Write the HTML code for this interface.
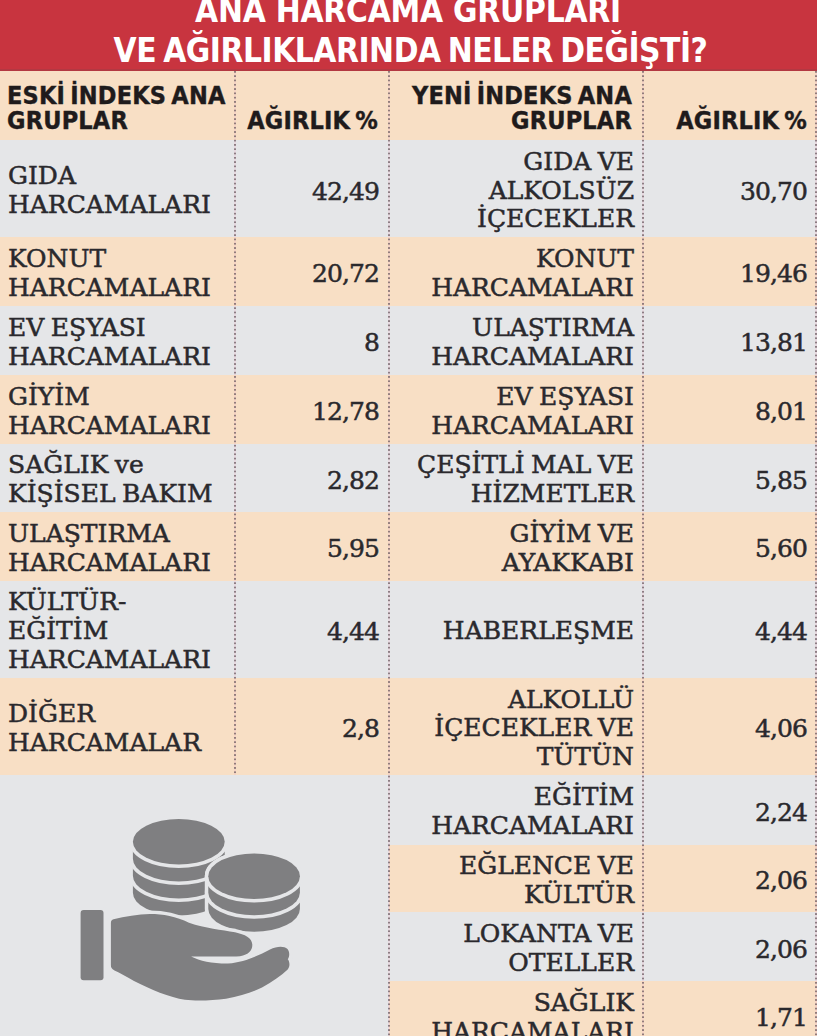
<!DOCTYPE html>
<html lang="tr">
<head>
<meta charset="utf-8">
<style>
html,body{margin:0;padding:0;}
body{width:820px;height:1036px;overflow:hidden;background:#fff;position:relative;}
.abs{position:absolute;}
#title{left:0;top:0;width:817px;height:71px;background:#c8343f;box-shadow:inset 0 -2px 0 #b33842;}
.tl{position:absolute;left:0;width:816px;text-align:center;color:#fff;font-family:"DejaVu Sans Condensed","DejaVu Sans",sans-serif;font-weight:bold;font-size:33.2px;line-height:40px;letter-spacing:-0.87px;white-space:nowrap;}
.bg{position:absolute;}
.g{background:#e5e6e8;}
.b{background:#f8dfc5;}
.hd{position:absolute;font-family:"DejaVu Sans Condensed","DejaVu Sans",sans-serif;font-weight:bold;font-size:25px;line-height:25.4px;color:#1f1b1c;white-space:nowrap;letter-spacing:0.2px;word-spacing:-3px;-webkit-text-stroke:0.4px #1f1b1c;}
.cell{position:absolute;display:flex;align-items:center;font-family:"DejaVu Serif",serif;font-size:25px;line-height:28.8px;color:#2a292d;white-space:nowrap;box-sizing:border-box;padding-top:5px;-webkit-text-stroke:0.5px #2a292d;word-spacing:-1.5px;}
.n1,.n2{letter-spacing:-0.9px;padding-top:7px;}
.l{left:8px;width:226px;justify-content:flex-start;text-align:left;}
.n1{left:235px;width:144px;justify-content:flex-end;text-align:right;}
.r{left:389px;width:245px;justify-content:flex-end;text-align:right;}
.n2{left:644px;width:163px;justify-content:flex-end;text-align:right;}
.dv{position:absolute;width:2px;background-color:rgba(240,180,200,.25);background-image:linear-gradient(to bottom,rgba(105,90,95,.72) 0,rgba(105,90,95,.72) 1.8px,transparent 1.8px,transparent 4.3px);background-size:2px 4.3px;}
</style>
</head>
<body>
<div id="title" class="abs">
  <div class="tl" style="top:-8.6px;letter-spacing:-0.24px">ANA HARCAMA GRUPLARI</div>
  <div class="tl" style="top:31.4px;left:2.5px;letter-spacing:-0.48px;word-spacing:-2.8px">VE AĞIRLIKLARINDA NELER DEĞİŞTİ?</div>
</div>

<!-- header row -->
<div class="bg b" style="left:0;top:71px;width:817px;height:69px"></div>
<!-- left table rows -->
<div class="bg g" style="left:0;top:140px;width:389px;height:97px"></div>
<div class="bg b" style="left:0;top:237px;width:389px;height:68.5px"></div>
<div class="bg g" style="left:0;top:305.5px;width:389px;height:69.5px"></div>
<div class="bg b" style="left:0;top:375px;width:389px;height:68.5px"></div>
<div class="bg g" style="left:0;top:443.5px;width:389px;height:68.5px"></div>
<div class="bg b" style="left:0;top:512px;width:389px;height:68.5px"></div>
<div class="bg g" style="left:0;top:580.5px;width:389px;height:97px"></div>
<div class="bg b" style="left:0;top:677.5px;width:389px;height:97.5px"></div>
<div class="bg g" style="left:0;top:775px;width:389px;height:261px"></div>
<!-- right table rows -->
<div class="bg g" style="left:389px;top:140px;width:428px;height:97px"></div>
<div class="bg b" style="left:389px;top:237px;width:428px;height:68.5px"></div>
<div class="bg g" style="left:389px;top:305.5px;width:428px;height:69.5px"></div>
<div class="bg b" style="left:389px;top:375px;width:428px;height:68.5px"></div>
<div class="bg g" style="left:389px;top:443.5px;width:428px;height:68.5px"></div>
<div class="bg b" style="left:389px;top:512px;width:428px;height:68.5px"></div>
<div class="bg g" style="left:389px;top:580.5px;width:428px;height:97px"></div>
<div class="bg b" style="left:389px;top:677.5px;width:428px;height:97.5px"></div>
<div class="bg g" style="left:389px;top:775px;width:428px;height:69.5px"></div>
<div class="bg b" style="left:389px;top:844.5px;width:428px;height:67.5px"></div>
<div class="bg g" style="left:389px;top:912px;width:428px;height:69px"></div>
<div class="bg b" style="left:389px;top:981px;width:428px;height:55px"></div>

<!-- dividers -->
<div class="dv" style="left:234px;top:71px;height:704px"></div>
<div class="dv" style="left:388px;top:71px;height:965px"></div>
<div class="dv" style="left:642px;top:71px;height:965px"></div>
<div class="dv" style="left:815px;top:71px;height:965px"></div>

<!-- header text -->
<div class="hd" style="left:7px;top:83px;">ESKİ İNDEKS ANA<br>GRUPLAR</div>
<div class="hd" style="right:442px;top:108.4px;text-align:right">AĞIRLIK %</div>
<div class="hd" style="right:188px;top:83px;text-align:right">YENİ İNDEKS ANA<br>GRUPLAR</div>
<div class="hd" style="right:13px;top:108.4px;text-align:right">AĞIRLIK %</div>

<!-- left table body -->
<div class="cell l" style="top:140px;height:97px">GIDA<br>HARCAMALARI</div>
<div class="cell n1" style="top:140px;height:97px">42,49</div>
<div class="cell l" style="top:237px;height:68.5px">KONUT<br>HARCAMALARI</div>
<div class="cell n1" style="top:237px;height:68.5px">20,72</div>
<div class="cell l" style="top:305.5px;height:69.5px">EV EŞYASI<br>HARCAMALARI</div>
<div class="cell n1" style="top:305.5px;height:69.5px">8</div>
<div class="cell l" style="top:375px;height:68.5px">GİYİM<br>HARCAMALARI</div>
<div class="cell n1" style="top:375px;height:68.5px">12,78</div>
<div class="cell l" style="top:443.5px;height:68.5px">SAĞLIK ve<br>KİŞİSEL BAKIM</div>
<div class="cell n1" style="top:443.5px;height:68.5px">2,82</div>
<div class="cell l" style="top:512px;height:68.5px">ULAŞTIRMA<br>HARCAMALARI</div>
<div class="cell n1" style="top:512px;height:68.5px">5,95</div>
<div class="cell l" style="top:580.5px;height:97px">KÜLTÜR-<br>EĞİTİM<br>HARCAMALARI</div>
<div class="cell n1" style="top:580.5px;height:97px">4,44</div>
<div class="cell l" style="top:677.5px;height:97.5px">DİĞER<br>HARCAMALAR</div>
<div class="cell n1" style="top:677.5px;height:97.5px">2,8</div>

<!-- right table body -->
<div class="cell r" style="top:140px;height:97px">GIDA VE<br>ALKOLSÜZ<br>İÇECEKLER</div>
<div class="cell n2" style="top:140px;height:97px">30,70</div>
<div class="cell r" style="top:237px;height:68.5px">KONUT<br>HARCAMALARI</div>
<div class="cell n2" style="top:237px;height:68.5px">19,46</div>
<div class="cell r" style="top:305.5px;height:69.5px">ULAŞTIRMA<br>HARCAMALARI</div>
<div class="cell n2" style="top:305.5px;height:69.5px">13,81</div>
<div class="cell r" style="top:375px;height:68.5px">EV EŞYASI<br>HARCAMALARI</div>
<div class="cell n2" style="top:375px;height:68.5px">8,01</div>
<div class="cell r" style="top:443.5px;height:68.5px">ÇEŞİTLİ MAL VE<br>HİZMETLER</div>
<div class="cell n2" style="top:443.5px;height:68.5px">5,85</div>
<div class="cell r" style="top:512px;height:68.5px">GİYİM VE<br>AYAKKABI</div>
<div class="cell n2" style="top:512px;height:68.5px">5,60</div>
<div class="cell r" style="top:580.5px;height:97px">HABERLEŞME</div>
<div class="cell n2" style="top:580.5px;height:97px">4,44</div>
<div class="cell r" style="top:677.5px;height:97.5px">ALKOLLÜ<br>İÇECEKLER VE<br>TÜTÜN</div>
<div class="cell n2" style="top:677.5px;height:97.5px">4,06</div>
<div class="cell r" style="top:775px;height:69.5px">EĞİTİM<br>HARCAMALARI</div>
<div class="cell n2" style="top:775px;height:69.5px">2,24</div>
<div class="cell r" style="top:844.5px;height:67.5px">EĞLENCE VE<br>KÜLTÜR</div>
<div class="cell n2" style="top:844.5px;height:67.5px">2,06</div>
<div class="cell r" style="top:912px;height:69px">LOKANTA VE<br>OTELLER</div>
<div class="cell n2" style="top:912px;height:69px">2,06</div>
<div class="cell r" style="top:981px;height:68.5px">SAĞLIK<br>HARCAMALARI</div>
<div class="cell n2" style="top:981px;height:68.5px">1,71</div>

<!-- icon -->
<svg class="abs" style="left:0;top:0" width="820" height="1036" viewBox="0 0 820 1036">
<g fill="#7f7f81" stroke="#e5e6e8" stroke-width="7" paint-order="stroke" stroke-linejoin="round">
<!-- left stack -->
<path d="M132.9 875.7 A45.9 22.7 0 0 1 224.7 875.7 L224.7 892.7 A45.9 22.7 0 0 1 132.9 892.7 Z"/>
<path d="M132.9 858.7 A45.9 22.7 0 0 1 224.7 858.7 L224.7 875.7 A45.9 22.7 0 0 1 132.9 875.7 Z"/>
<path d="M132.9 841.7 A45.9 22.7 0 0 1 224.7 841.7 L224.7 858.7 A45.9 22.7 0 0 1 132.9 858.7 Z"/>
<ellipse cx="178.8" cy="841.7" rx="45.9" ry="22.7"/>
<!-- right stack -->
<path d="M208.3 892.5 A45.8 22.8 0 0 1 299.9 892.5 L299.9 909 A45.8 22.8 0 0 1 208.3 909 Z"/>
<path d="M208.3 876.2 A45.8 22.8 0 0 1 299.9 876.2 L299.9 892.5 A45.8 22.8 0 0 1 208.3 892.5 Z"/>
<ellipse cx="254.1" cy="876.2" rx="45.8" ry="22.8"/>
<!-- hand -->
<path d="M113.5 919.3 C125 916.5 138 914.2 150 914 C163 914 176 916.5 189 922.8 C205 928.4 222 930 235 932.3 C245 934.5 252 938 252.3 944.5 C252.5 950 249 954.5 240 956.3 C225 957 205 956.2 191.1 956.5 C200 961 212 963.6 228 963.5 C245 962.5 258 955.5 270 949.5 C277 946 284 945.8 287.5 949 C290 952 289.5 957 287.8 959.2 C290 962 290 966.5 287.7 969.4 C281 975.5 272 982 262 987.5 C252 992.5 240 996 226 998.7 C212 1000.6 196 1001 185 999.8 C170 997.5 150 989 134 980.9 C126 976.5 120 973 114.5 970.4 C111.5 969 110.9 967.5 110.9 965 L110.9 923 C110.9 921 111.8 919.8 113.5 919.3 Z"/>
<rect x="80.6" y="909.9" width="22.9" height="70.3" rx="3" ry="3"/>
</g>
</svg>
</body>
</html>
